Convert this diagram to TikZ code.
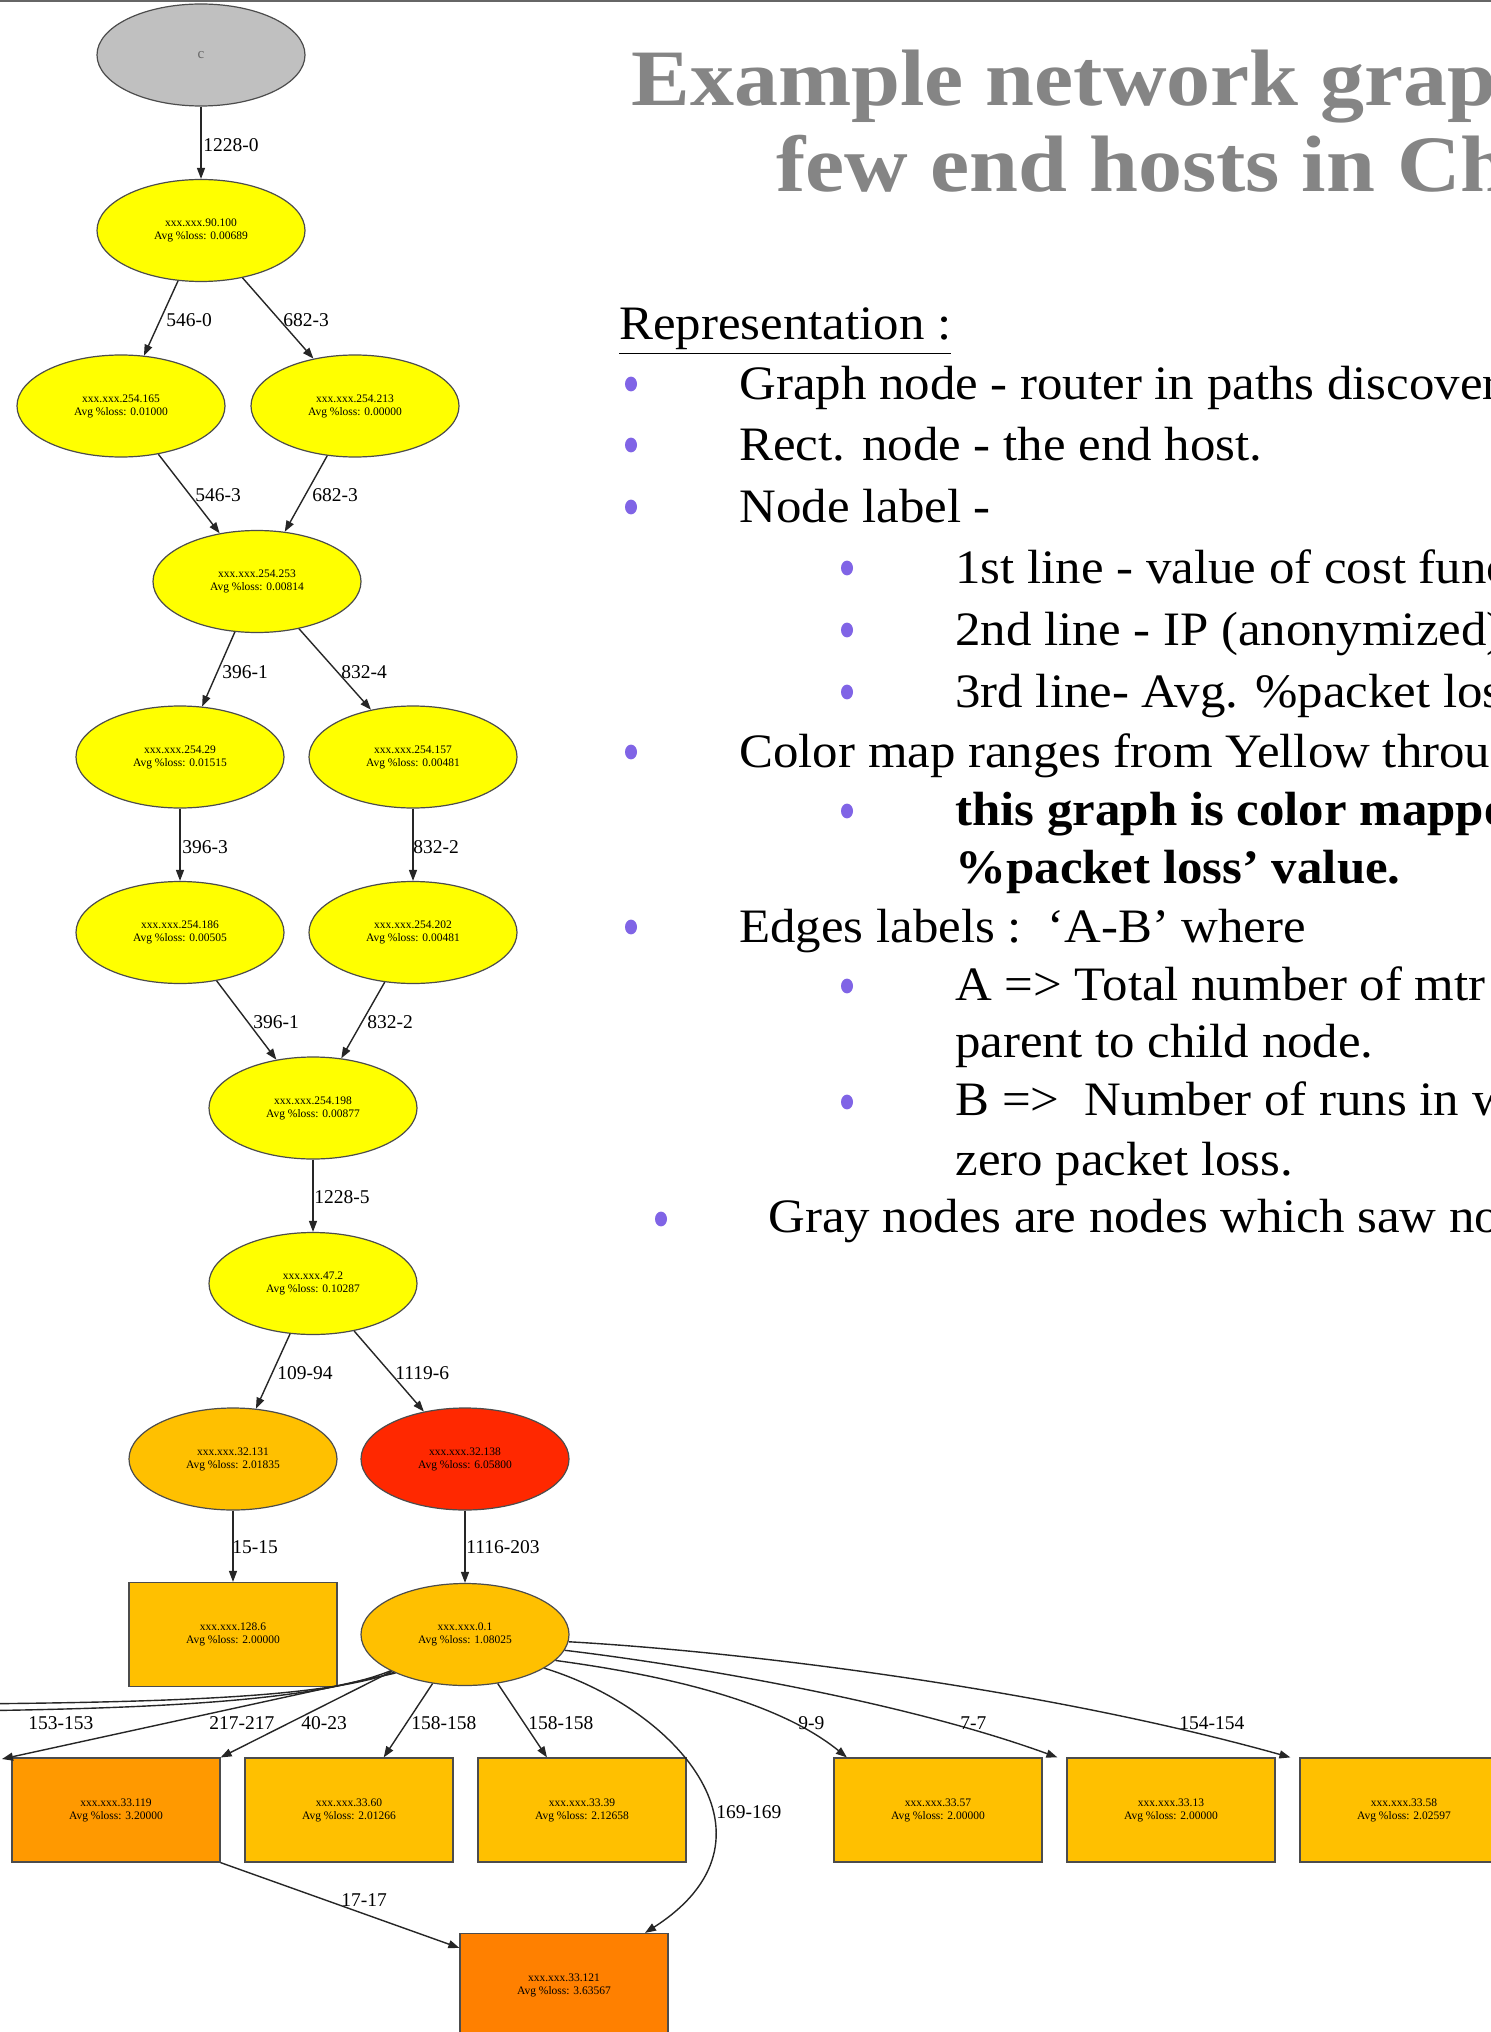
\documentclass[tikz,border=0pt]{standalone}
\usepackage{fontspec}
\setmainfont{Liberation Serif}
\newfontfamily\titlefont[FakeStretch=1.1]{Liberation Serif}
\newfontfamily\bodyfont[FakeStretch=1.06]{Liberation Serif}
\usetikzlibrary{shapes.geometric,arrows.meta,calc}

\definecolor{ylw}{RGB}{255,255,0}
\definecolor{amber}{RGB}{255,192,0}
\definecolor{orng}{RGB}{255,153,0}
\definecolor{dkorng}{RGB}{255,128,0}
\definecolor{hot}{RGB}{255,40,0}
\definecolor{grynode}{RGB}{192,192,192}
\definecolor{titlegray}{RGB}{133,133,133}
\definecolor{bul}{RGB}{128,100,230}

\begin{document}
\begin{tikzpicture}[x=0.5pt,y=-0.5pt,
  nodetext/.style={font=\fontsize{5.75}{6.5}\selectfont,align=center},
  router/.style={ellipse,draw=black!70,line width=0.6pt,minimum width=104pt,
    minimum height=51pt,inner sep=0pt,nodetext},
  host/.style={rectangle,draw=black!70,line width=0.6pt,minimum width=104pt,
    minimum height=52pt,inner sep=0pt,nodetext},
  link/.style={draw=black!85,line width=0.7pt,-{Triangle[length=5.5pt,width=4pt]}},
  elabel/.style={anchor=west,inner sep=0pt,font=\fontsize{9.75}{10}\selectfont},
  title/.style={anchor=base west,inner sep=0pt,text=titlegray,
    font=\titlefont\bfseries\fontsize{40}{40}\selectfont},
  body/.style={anchor=base west,inner sep=0pt,font=\bodyfont\fontsize{24}{28}\selectfont},
  boldbody/.style={body,font=\bodyfont\bfseries\fontsize{24}{28}\selectfont},
  dot/.style={fill=bul}
]
\useasboundingbox (0,0) rectangle (1491,2032);
\clip (0,0) rectangle (1491,2032);
\fill[white] (0,0) rectangle (1491,2032);
\fill[black!60] (0,0) rectangle (1491,2);

% ---------- routers (ellipses) ----------
\node[router,fill=grynode,text=black!60,font=\fontsize{7.5}{8}\selectfont] (c) at (201,55) {c};
\node[router,fill=ylw] (n1) at (201,230.5) {xxx.xxx.90.100\\Avg \%loss: 0.00689};
\node[router,fill=ylw] (n2) at (121,406) {xxx.xxx.254.165\\Avg \%loss: 0.01000};
\node[router,fill=ylw] (n3) at (355,406) {xxx.xxx.254.213\\Avg \%loss: 0.00000};
\node[router,fill=ylw] (n4) at (257,581.5) {xxx.xxx.254.253\\Avg \%loss: 0.00814};
\node[router,fill=ylw] (n5) at (180,757) {xxx.xxx.254.29\\Avg \%loss: 0.01515};
\node[router,fill=ylw] (n6) at (413,757) {xxx.xxx.254.157\\Avg \%loss: 0.00481};
\node[router,fill=ylw] (n7) at (180,932.5) {xxx.xxx.254.186\\Avg \%loss: 0.00505};
\node[router,fill=ylw] (n8) at (413,932.5) {xxx.xxx.254.202\\Avg \%loss: 0.00481};
\node[router,fill=ylw] (n9) at (313,1108) {xxx.xxx.254.198\\Avg \%loss: 0.00877};
\node[router,fill=ylw] (n10) at (313,1283.5) {xxx.xxx.47.2\\Avg \%loss: 0.10287};
\node[router,fill=amber] (n11) at (233,1459) {xxx.xxx.32.131\\Avg \%loss: 2.01835};
\node[router,fill=hot] (n12) at (465,1459) {xxx.xxx.32.138\\Avg \%loss: 6.05800};
\node[router,fill=amber] (n13) at (465,1634.5) {xxx.xxx.0.1\\Avg \%loss: 1.08025};

% ---------- end hosts (rectangles) ----------
\node[host,fill=amber] (r1) at (233,1634.5) {xxx.xxx.128.6\\Avg \%loss: 2.00000};
\node[host,fill=orng] (b1) at (116,1810) {xxx.xxx.33.119\\Avg \%loss: 3.20000};
\node[host,fill=amber] (b2) at (349,1810) {xxx.xxx.33.60\\Avg \%loss: 2.01266};
\node[host,fill=amber] (b3) at (582,1810) {xxx.xxx.33.39\\Avg \%loss: 2.12658};
\node[host,fill=amber] (b4) at (938,1810) {xxx.xxx.33.57\\Avg \%loss: 2.00000};
\node[host,fill=amber] (b6) at (1171,1810) {xxx.xxx.33.13\\Avg \%loss: 2.00000};
\node[host,fill=amber] (b7) at (1404,1810) {xxx.xxx.33.58\\Avg \%loss: 2.02597};
\node[host,fill=dkorng] (b5) at (564,1985.5) {xxx.xxx.33.121\\Avg \%loss: 3.63567};

% free ends of links leaving the left border
\coordinate (offA) at (-40,1704);
\coordinate (offB) at (-40,1711);
\coordinate (offC) at (2,1759);

% ---------- links ----------
\draw[link] (c) -- (n1);
\draw[link] (n1) -- (n2);
\draw[link] (n1) -- (n3);
\draw[link] (n2) -- (n4);
\draw[link] (n3) -- (n4);
\draw[link] (n4) -- (n5);
\draw[link] (n4) -- (n6);
\draw[link] (n5) -- (n7);
\draw[link] (n6) -- (n8);
\draw[link] (n7) -- (n9);
\draw[link] (n8) -- (n9);
\draw[link] (n9) -- (n10);
\draw[link] (n10) -- (n11);
\draw[link] (n10) -- (n12);
\draw[link] (n11) -- (r1);
\draw[link] (n12) -- (n13);
\draw[link] (n13) -- (b1);
\draw[link] (n13) -- (b2);
\draw[link] (n13) -- (b3);
\draw[link] (b1.south east) -- ($(b5.north west)+(0,15)$);
\draw[link] (n13.-152) .. controls (330,1695) and (200,1702) .. (offA);
\draw[link] (n13.-154) .. controls (320,1699) and (180,1708) .. (offB);
\draw[link] (n13.-151) -- (offC);
\draw[link] (n13.-23) .. controls (680,1710) and (790,1840) .. (b5.33);
\draw[link] (n13.-16) .. controls (640,1672) and (770,1695) .. (b4.150);
\draw[link] (n13.-9) .. controls (680,1664) and (900,1700) .. ($(b6.north west)+(-9,0)$);
\draw[link] (n13.-4) .. controls (750,1652) and (1050,1690) .. ($(b7.north west)+(-9,0)$);

% ---------- link labels ----------
\node[elabel] (e1) at (203,145) {1228-0};
\node[elabel] (e2) at (166,320) {546-0};
\node[elabel] (e3) at (283,320) {682-3};
\node[elabel] (e4) at (195,495) {546-3};
\node[elabel] (e5) at (312,495) {682-3};
\node[elabel] (e6) at (222,672) {396-1};
\node[elabel] (e7) at (341,672) {832-4};
\node[elabel] (e8) at (182,847) {396-3};
\node[elabel] (e9) at (413,847) {832-2};
\node[elabel] (e10) at (253,1022) {396-1};
\node[elabel] (e11) at (367,1022) {832-2};
\node[elabel] (e12) at (314,1197) {1228-5};
\node[elabel] (e13) at (277,1373) {109-94};
\node[elabel] (e14) at (395,1373) {1119-6};
\node[elabel] (e15) at (232,1547) {15-15};
\node[elabel] (e16) at (466,1547) {1116-203};
\node[elabel] (e17) at (28,1723) {153-153};
\node[elabel] (e18) at (209,1723) {217-217};
\node[elabel] (e19) at (301,1723) {40-23};
\node[elabel] (e20) at (411,1723) {158-158};
\node[elabel] (e21) at (528,1723) {158-158};
\node[elabel] (e22) at (798,1723) {9-9};
\node[elabel] (e23) at (960,1723) {7-7};
\node[elabel] (e24) at (1179,1723) {154-154};
\node[elabel] (e25) at (716,1812) {169-169};
\node[elabel] (e26) at (341,1900) {17-17};

% ---------- title ----------
\node[title] (t1) at (631,106) {Example network graph};
\node[title] (t2) at (776,192) {few end hosts in Ch};

% ---------- legend text ----------
\node[body] (h0) at (619,340) {\underline{Representation :}};
\fill[dot] (631,384) ellipse [x radius=3pt,y radius=3.7pt];
\node[body] (h1) at (739,400) {Graph node - router in paths discovered};
\fill[dot] (631,445) ellipse [x radius=3pt,y radius=3.7pt];
\node[body] (h2) at (739,460) {Rect. node - the end host.};
\fill[dot] (631,507) ellipse [x radius=3pt,y radius=3.7pt];
\node[body] (h3) at (739,522) {Node label -};
\fill[dot] (847,568) ellipse [x radius=3pt,y radius=3.7pt];
\node[body] (h4) at (955,583) {1st line - value of cost function};
\fill[dot] (847,630) ellipse [x radius=3pt,y radius=3.7pt];
\node[body] (h5) at (955,645) {2nd line - IP (anonymized)};
\fill[dot] (847,692) ellipse [x radius=3pt,y radius=3.7pt];
\node[body] (h6) at (955,707) {3rd line- Avg. \%packet loss};
\fill[dot] (631,752) ellipse [x radius=3pt,y radius=3.7pt];
\node[body] (h7) at (739,767) {Color map ranges from Yellow through};
\fill[dot] (847,811) ellipse [x radius=3pt,y radius=3.7pt];
\node[boldbody] (h8) at (955,825) {this graph is color mapped};
\node[boldbody] (h9) at (955,883) {\%packet loss’ value.};
\fill[dot] (631,927) ellipse [x radius=3pt,y radius=3.7pt];
\node[body] (h10) at (739,942) {Edges labels :\ \ ‘A-B’ where};
\fill[dot] (847,986) ellipse [x radius=3pt,y radius=3.7pt];
\node[body] (h11) at (955,1000) {A => Total number of mtr};
\node[body] (h12) at (955,1057) {parent to child node.};
\fill[dot] (847,1102) ellipse [x radius=3pt,y radius=3.7pt];
\node[body] (h13) at (955,1115) {B =>\ \ Number of runs in which};
\node[body] (h14) at (955,1175) {zero packet loss.};
\fill[dot] (661,1219) ellipse [x radius=3pt,y radius=3.7pt];
\node[body] (h15) at (768,1232) {Gray nodes are nodes which saw no};
\end{tikzpicture}
\end{document}
